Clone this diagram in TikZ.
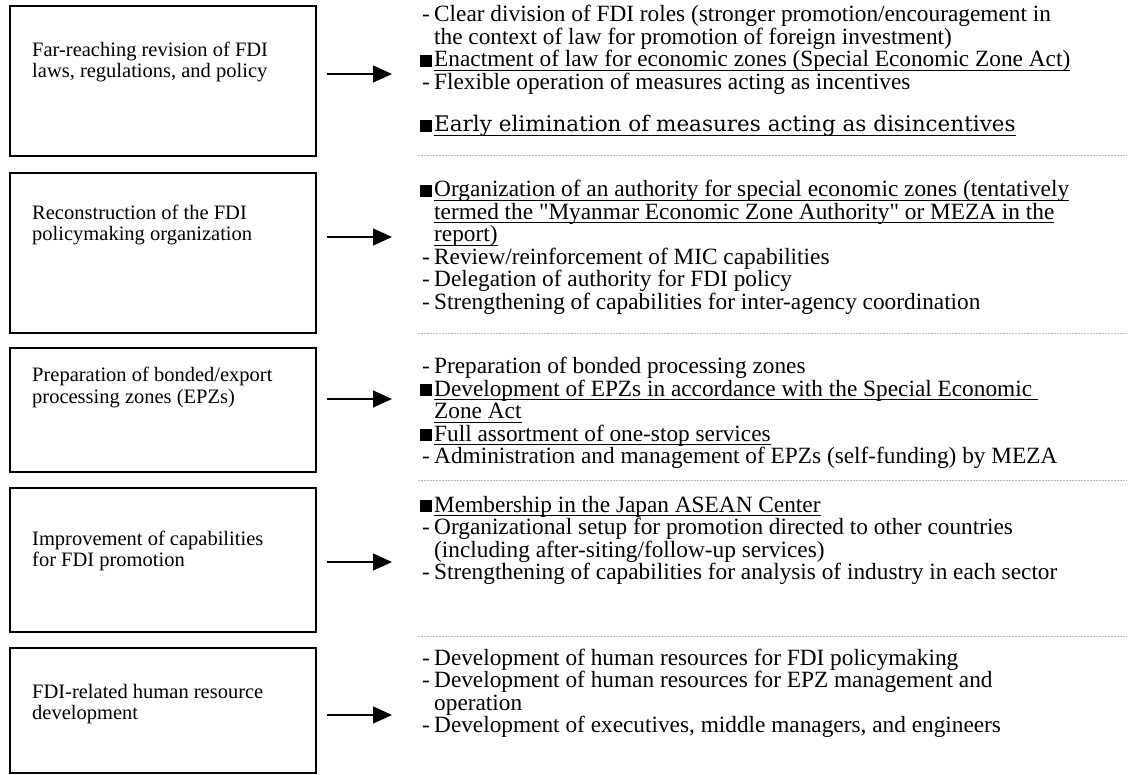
\documentclass[tikz,border=0pt]{standalone}
\usepackage{fontspec}
\setmainfont{Liberation Serif}
\newfontfamily\widefont{DejaVu Serif}
% same face without the TeX input mapping, for straight double quotes
\newfontfamily\plainquotes{Liberation Serif}
\usetikzlibrary{arrows.meta}

% underline at a fixed depth below the baseline
\newsavebox\ulbox
\newcommand{\ulx}[1]{\sbox\ulbox{#1}\rlap{\rule[-3.5pt]{\wd\ulbox}{0.9pt}}\usebox\ulbox}
\newcommand{\sq}{{\plainquotes\symbol{34}}}
% list markers of the right-hand column
\newcommand{\sqmark}{\makebox[14pt][l]{\rule{12pt}{12pt}}}
\newcommand{\dashmark}{\makebox[14pt][l]{\hspace{2pt}-}}
\newcommand{\contmark}{\hspace*{14pt}}

\begin{document}
\begin{tikzpicture}[x=1pt,y=-1pt,
  fdibox/.style={draw, line width=1.8pt, minimum width=306pt, inner sep=0pt, anchor=north west},
  boxtext/.style={anchor=base west, inner sep=0pt, font=\fontsize{20.5}{21}\selectfont},
  item/.style={anchor=base west, inner sep=0pt, font=\fontsize{23.3}{22.5}\selectfont},
  arr/.style={line width=1.2pt, -{Triangle[length=19pt,width=17pt]}},
  sepline/.style={gray!55, line width=0.9pt, dash pattern=on 1.5pt off 1.5pt}]

\useasboundingbox (0,0) rectangle (1130,775);
\fill[white] (0,0) rectangle (1130,775);

% left-hand boxes
\node[fdibox, minimum height=150pt] (b1) at (9,5) {};
\node[fdibox, minimum height=160pt] (b2) at (9,172) {};
\node[fdibox, minimum height=124pt] (b3) at (9,347) {};
\node[fdibox, minimum height=144pt] (b4) at (9,487) {};
\node[fdibox, minimum height=125pt] (b5) at (9,647) {};

\node[boxtext] (t1a) at (32,57) {Far-reaching revision of FDI};
\node[boxtext] (t1b) at (32,78) {laws, regulations, and policy};
\node[boxtext] (t2a) at (32,220) {Reconstruction of the FDI};
\node[boxtext] (t2b) at (32,241) {policymaking organization};
\node[boxtext] (t3a) at (32,382) {Preparation of bonded/export};
\node[boxtext] (t3b) at (32,403) {processing zones (EPZs)};
\node[boxtext] (t4a) at (32,545) {Improvement of capabilities};
\node[boxtext] (t4b) at (32,566) {for FDI promotion};
\node[boxtext] (t5a) at (32,698) {FDI-related human resource};
\node[boxtext] (t5b) at (32,719) {development};

% arrows
\coordinate (a1s) at (327,74);  \coordinate (a1e) at (392,74);
\coordinate (a2s) at (327,237); \coordinate (a2e) at (392,237);
\coordinate (a3s) at (327,399); \coordinate (a3e) at (392,399);
\coordinate (a4s) at (327,562); \coordinate (a4e) at (392,562);
\coordinate (a5s) at (327,715); \coordinate (a5e) at (392,715);
\draw[arr] (a1s) -- (a1e);
\draw[arr] (a2s) -- (a2e);
\draw[arr] (a3s) -- (a3e);
\draw[arr] (a4s) -- (a4e);
\draw[arr] (a5s) -- (a5e);

% block 1
\node[item] (r1a) at (420,22) {\dashmark Clear division of FDI roles (stronger promotion/encouragement in};
\node[item] (r1b) at (420,44.5) {\contmark the context of law for promotion of foreign investment)};
\node[item] (r1c) at (420,67) {\sqmark\ulx{Enactment of law for economic zones (Special Economic Zone Act)}};
\node[item] (r1d) at (420,89.5) {\dashmark Flexible operation of measures acting as incentives};
\node[item] (r1e) at (420,132) {\sqmark{\widefont\fontsize{21.5}{21}\selectfont\ulx{Early elimination of measures acting as disincentives}}};

% block 2
\node[item] (r2a) at (420,197) {\sqmark\ulx{Organization of an authority for special economic zones (tentatively}};
\node[item] (r2b) at (420,219.5) {\contmark\ulx{termed the \sq Myanmar Economic Zone Authority\sq{} or MEZA in the}};
\node[item] (r2c) at (420,242) {\contmark\ulx{report)}};
\node[item] (r2d) at (420,264.5) {\dashmark Review/reinforcement of MIC capabilities};
\node[item] (r2e) at (420,287) {\dashmark Delegation of authority for FDI policy};
\node[item] (r2f) at (420,309.5) {\dashmark Strengthening of capabilities for inter-agency coordination};

% block 3
\node[item] (r3a) at (420,374) {\dashmark Preparation of bonded processing zones};
\node[item] (r3b) at (420,396.5) {\sqmark\ulx{Development of EPZs in accordance with the Special Economic\ }};
\node[item] (r3c) at (420,419) {\contmark\ulx{Zone Act}};
\node[item] (r3d) at (420,441.5) {\sqmark\ulx{Full assortment of one-stop services}};
\node[item] (r3e) at (420,464) {\dashmark Administration and management of EPZs (self-funding) by MEZA};

% block 4
\node[item] (r4a) at (420,512) {\sqmark\ulx{Membership in the Japan ASEAN Center}};
\node[item] (r4b) at (420,534.5) {\dashmark Organizational setup for promotion directed to other countries};
\node[item] (r4c) at (420,557) {\contmark (including after-siting/follow-up services)};
\node[item] (r4d) at (420,579.5) {\dashmark Strengthening of capabilities for analysis of industry in each sector};

% block 5
\node[item] (r5a) at (420,665) {\dashmark Development of human resources for FDI policymaking};
\node[item] (r5b) at (420,687.5) {\dashmark Development of human resources for EPZ management and};
\node[item] (r5c) at (420,710) {\contmark operation};
\node[item] (r5d) at (420,732.5) {\dashmark Development of executives, middle managers, and engineers};

% faint separators between the blocks
\coordinate (s1w) at (418,155); \coordinate (s1e) at (1127,155);
\coordinate (s2w) at (418,333); \coordinate (s2e) at (1127,333);
\coordinate (s3w) at (418,480); \coordinate (s3e) at (1127,480);
\coordinate (s4w) at (418,636); \coordinate (s4e) at (1127,636);
\draw[sepline] (s1w) -- (s1e);
\draw[sepline] (s2w) -- (s2e);
\draw[sepline] (s3w) -- (s3e);
\draw[sepline] (s4w) -- (s4e);
\end{tikzpicture}
\end{document}
